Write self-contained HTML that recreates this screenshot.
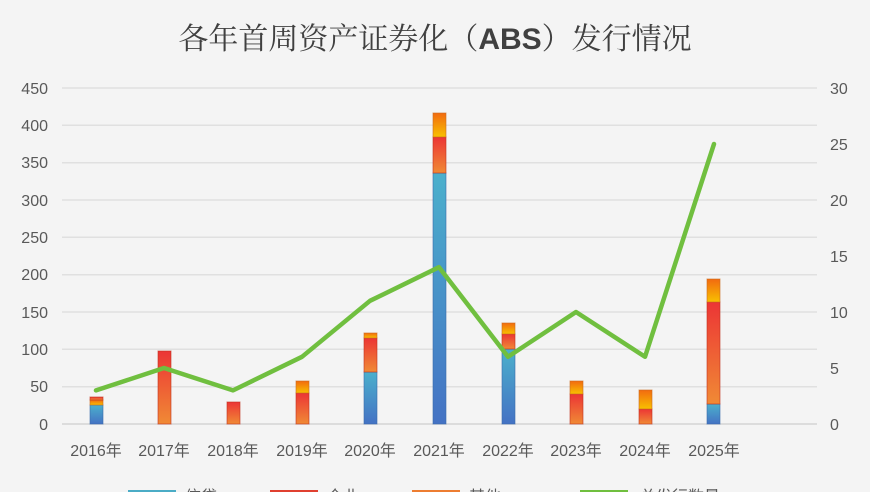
<!DOCTYPE html>
<html><head><meta charset="utf-8"><style>
html,body{margin:0;padding:0;background:#f4f4f4;}
svg{display:block;font-family:"Liberation Sans","Noto Sans CJK SC",sans-serif;}
</style></head><body>
<svg width="870" height="492" viewBox="0 0 870 492" xmlns="http://www.w3.org/2000/svg">
<defs>
<linearGradient id="gb" x1="0" y1="1" x2="0" y2="0"><stop offset="0" stop-color="#4472c4"/><stop offset="1" stop-color="#4bb0cc"/></linearGradient>
<linearGradient id="gr" x1="0" y1="1" x2="0" y2="0"><stop offset="0" stop-color="#f08a35"/><stop offset="1" stop-color="#ec3535"/></linearGradient>
<linearGradient id="go" x1="0" y1="1" x2="0" y2="0"><stop offset="0" stop-color="#f8c000"/><stop offset="1" stop-color="#f26a10"/></linearGradient>
</defs>
<rect width="870" height="492" fill="#f4f4f4"/>
<text x="435" y="49" text-anchor="middle" font-size="30" fill="#404040" font-family="'Noto Serif CJK SC','Noto Sans CJK SC',sans-serif">各年首周资产证券化（<tspan font-family="'Liberation Sans',sans-serif" font-weight="bold">ABS</tspan>）发行情况</text>
<g stroke="#e0e0e0" stroke-width="1.5">
<line x1="62" x2="817" y1="88" y2="88"/><line x1="62" x2="817" y1="125.3" y2="125.3"/><line x1="62" x2="817" y1="162.7" y2="162.7"/><line x1="62" x2="817" y1="200" y2="200"/><line x1="62" x2="817" y1="237.3" y2="237.3"/><line x1="62" x2="817" y1="274.7" y2="274.7"/><line x1="62" x2="817" y1="312" y2="312"/><line x1="62" x2="817" y1="349.3" y2="349.3"/><line x1="62" x2="817" y1="386.7" y2="386.7"/>
</g>
<line x1="62" x2="817" y1="424" y2="424" stroke="#d4d4d4" stroke-width="1.5"/>
<g font-size="16" fill="#595959" text-anchor="end">
<text x="48" y="94">450</text><text x="48" y="131">400</text><text x="48" y="168">350</text><text x="48" y="206">300</text><text x="48" y="243">250</text><text x="48" y="280">200</text><text x="48" y="318">150</text><text x="48" y="355">100</text><text x="48" y="392">50</text><text x="48" y="430">0</text>
</g>
<g font-size="16" fill="#595959" text-anchor="start">
<text x="830" y="94">30</text><text x="830" y="150">25</text><text x="830" y="206">20</text><text x="830" y="262">15</text><text x="830" y="318">10</text><text x="830" y="374">5</text><text x="830" y="430">0</text>
</g>
<g font-size="16" fill="#595959" text-anchor="middle" font-family="'Liberation Sans','Noto Sans CJK SC',sans-serif">
<text x="96" y="456">2016年</text><text x="164" y="456">2017年</text><text x="233" y="456">2018年</text><text x="302" y="456">2019年</text><text x="370" y="456">2020年</text><text x="439" y="456">2021年</text><text x="508" y="456">2022年</text><text x="576" y="456">2023年</text><text x="645" y="456">2024年</text><text x="714" y="456">2025年</text>
</g>
<g stroke-width="1" stroke-opacity="0.6">
<!-- 2016 -->
<rect x="90" y="405" width="13" height="19" fill="url(#gb)" stroke="#3a6aa8"/>
<rect x="90" y="400" width="13" height="5" fill="url(#go)" stroke="#c86a20"/>
<rect x="90" y="397" width="13" height="3" fill="url(#gr)" stroke="#c03020"/>
<!-- 2017 -->
<rect x="158" y="351" width="13" height="73" fill="url(#gr)" stroke="#c03020"/>
<!-- 2018 -->
<rect x="227" y="402" width="13" height="22" fill="url(#gr)" stroke="#c03020"/>
<!-- 2019 -->
<rect x="296" y="393" width="13" height="31" fill="url(#gr)" stroke="#c03020"/>
<rect x="296" y="381" width="13" height="12" fill="url(#go)" stroke="#c86a20"/>
<!-- 2020 -->
<rect x="364" y="372" width="13" height="52" fill="url(#gb)" stroke="#3a6aa8"/>
<rect x="364" y="338" width="13" height="34" fill="url(#gr)" stroke="#c03020"/>
<rect x="364" y="333" width="13" height="5" fill="url(#go)" stroke="#c86a20"/>
<!-- 2021 -->
<rect x="433" y="173" width="13" height="251" fill="url(#gb)" stroke="#3a6aa8"/>
<rect x="433" y="137" width="13" height="36" fill="url(#gr)" stroke="#c03020"/>
<rect x="433" y="113" width="13" height="24" fill="url(#go)" stroke="#c86a20"/>
<!-- 2022 -->
<rect x="502" y="349" width="13" height="75" fill="url(#gb)" stroke="#3a6aa8"/>
<rect x="502" y="334" width="13" height="15" fill="url(#gr)" stroke="#c03020"/>
<rect x="502" y="323" width="13" height="11" fill="url(#go)" stroke="#c86a20"/>
<!-- 2023 -->
<rect x="570" y="394" width="13" height="30" fill="url(#gr)" stroke="#c03020"/>
<rect x="570" y="381" width="13" height="13" fill="url(#go)" stroke="#c86a20"/>
<!-- 2024 -->
<rect x="639" y="409" width="13" height="15" fill="url(#gr)" stroke="#c03020"/>
<rect x="639" y="390" width="13" height="19" fill="url(#go)" stroke="#c86a20"/>
<!-- 2025 -->
<rect x="707" y="404" width="13" height="20" fill="url(#gb)" stroke="#3a6aa8"/>
<rect x="707" y="302" width="13" height="102" fill="url(#gr)" stroke="#c03020"/>
<rect x="707" y="279" width="13" height="23" fill="url(#go)" stroke="#c86a20"/>
</g>
<polyline fill="none" stroke="#70bf3f" stroke-width="4.5" stroke-linejoin="round" stroke-linecap="round"
 points="96,390.4 164,368 233,390.4 302,356.8 370,300.8 439,267.2 508,356.8 576,312 645,356.8 714,144"/>
<g font-size="16" fill="#595959">
<rect x="128" y="490" width="48" height="4" fill="#4bacc6"/><text x="185" y="502">信贷</text>
<rect x="270" y="490" width="48" height="4" fill="#e04030"/><text x="327" y="502">企业</text>
<rect x="412" y="490" width="48" height="4" fill="#ed7d31"/><text x="469" y="502">其他</text>
<rect x="580" y="490" width="48" height="4" fill="#70bf3f"/><text x="640" y="502">总发行数量</text>
</g>
</svg>
</body></html>
